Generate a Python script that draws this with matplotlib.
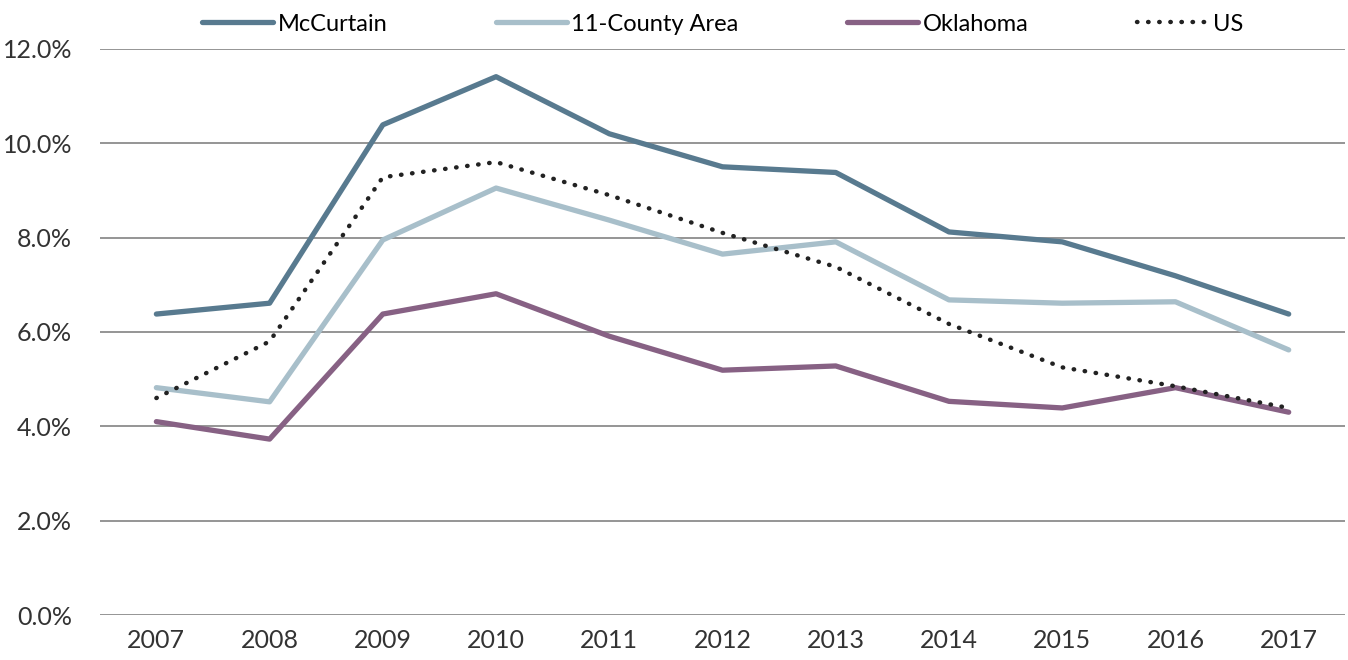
import matplotlib.pyplot as plt
from matplotlib.ticker import FuncFormatter

years = list(range(2007, 2018))
mccurtain = [6.38, 6.61, 10.39, 11.41, 10.2, 9.5, 9.38, 8.12, 7.91, 7.19, 6.38]
county11 = [4.82, 4.52, 7.95, 9.05, 8.37, 7.65, 7.91, 6.68, 6.61, 6.64, 5.62]
oklahoma = [4.1, 3.73, 6.38, 6.81, 5.91, 5.19, 5.28, 4.53, 4.39, 4.82, 4.3]
us = [4.6, 5.8, 9.28, 9.6, 8.9, 8.1, 7.38, 6.17, 5.25, 4.85, 4.39]

plt.rcParams['font.family'] = ['Lato', 'DejaVu Sans']

fig = plt.figure(figsize=(13.48, 6.6), dpi=100)
ax = fig.add_axes([0.074, 0.068, 0.924, 0.858])

ax.plot(years, mccurtain, color="#587A8F", lw=3.8, label="McCurtain", solid_capstyle="round")
ax.plot(years, county11, color="#A8BFCA", lw=3.8, label="11-County Area", solid_capstyle="round")
ax.plot(years, oklahoma, color="#876184", lw=3.8, label="Oklahoma", solid_capstyle="round")
ax.plot(years, us, color="#222222", lw=3.2, linestyle=(0, (0.1, 2.4)),
        dash_capstyle="round", label="US")

ax.set_ylim(0, 12)
ax.set_xlim(2006.5, 2017.5)
ax.set_yticks([0, 2, 4, 6, 8, 10, 12])
ax.yaxis.set_major_formatter(FuncFormatter(lambda v, p: f"{v:.1f}%"))
ax.set_xticks(years)
ax.grid(axis="y", color="#8c8c8c", lw=1.3)
ax.set_axisbelow(True)
for s in ["top", "right", "left", "bottom"]:
    ax.spines[s].set_visible(False)
ax.tick_params(length=0, labelsize=18, colors="#333333")
ax.tick_params(axis="x", pad=10)
ax.tick_params(axis="y", pad=20)

ax.legend(loc="lower center", bbox_to_anchor=(0.5, 1.0), ncol=4, frameon=False,
          fontsize=17, handlelength=3.0, columnspacing=4.6, handletextpad=0.2,
          borderaxespad=0.2)

fig.savefig("out.png", dpi=100)
